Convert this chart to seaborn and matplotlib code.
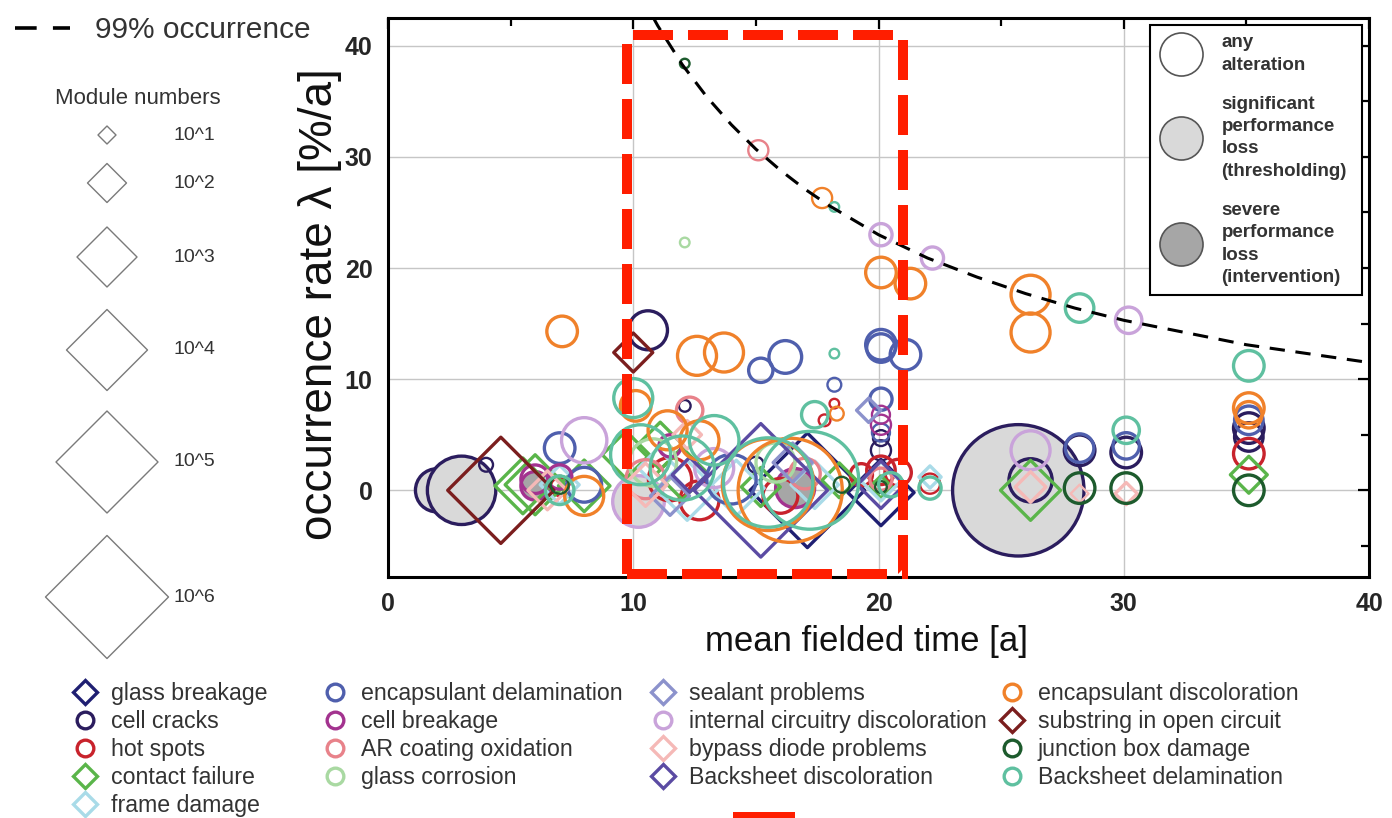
import matplotlib
matplotlib.use("Agg")
import numpy as np
import pandas as pd
import matplotlib.pyplot as plt
import seaborn as sns
from matplotlib.lines import Line2D
from matplotlib.patches import Rectangle

# ---------------------------------------------------------------------------
# Degradation modes: (mean fielded time [a], occurrence rate [%/a],
#                     log10 module number, severity 0=any / 1=significant / 2=severe)
# ---------------------------------------------------------------------------
glass_breakage = [(17.1, 0.0, 5.6, 0), (20.1, -0.2, 3.3, 0)]
cell_cracks = [(2.0, 0.0, 2.2, 1), (3.0, 0.0, 3.4, 1), (25.7, 0.0, 6.4, 1),
               (10.6, 14.4, 2.0, 0), (12.1, 7.6, 0.7, 0), (4.0, 2.3, 0.8, 0),
               (15.0, 2.3, 0.9, 0), (20.1, 4.7, 0.9, 0), (20.1, 3.6, 1.1, 0),
               (26.2, 0.9, 2.2, 0), (28.2, 3.6, 1.6, 0), (30.1, 3.4, 1.6, 0),
               (35.1, 5.6, 1.6, 0), (35.1, 4.8, 1.5, 0)]
hot_spots = [(7.0, 0.3, 1.0, 0), (12.7, -0.9, 2.0, 0), (17.8, 6.3, 0.7, 0),
             (18.2, 7.8, 0.6, 0), (19.3, 1.4, 1.2, 0), (20.1, 1.8, 1.5, 0),
             (20.8, 1.6, 1.4, 0), (22.1, 0.6, 1.1, 0), (35.1, 3.3, 1.6, 0),
             (11.5, 1.0, 2.2, 0), (16.0, -0.5, 1.8, 0)]
contact_failure = [(6.0, 0.5, 3.0, 0), (5.5, 0.4, 2.8, 0), (8.0, 0.4, 2.6, 0),
                   (9.7, 3.2, 2.4, 0), (11.1, 4.0, 2.4, 0), (12.0, 1.5, 2.6, 0),
                   (15.2, 0.3, 2.0, 0), (18.4, 0.9, 1.8, 0), (20.1, 0.3, 1.2, 0),
                   (26.2, 0.0, 3.0, 0), (35.1, 1.4, 1.9, 0)]
frame_damage = [(7.0, 0.5, 2.0, 0), (12.2, 0.0, 3.0, 0), (14.2, 0.2, 2.8, 0),
                (17.4, 0.5, 2.4, 0), (20.1, 0.8, 2.0, 0), (22.1, 1.2, 1.2, 0),
                (11.0, 2.0, 2.0, 0)]
encapsulant_delamination = [(7.0, 3.8, 1.6, 0), (8.0, 0.5, 1.8, 0), (15.2, 10.8, 1.3, 0),
                            (16.2, 12.0, 1.7, 0), (18.2, 9.5, 0.8, 0), (20.1, 13.1, 1.6, 0),
                            (20.1, 12.8, 1.5, 0), (21.1, 12.2, 1.6, 0), (20.1, 8.2, 1.2, 0),
                            (20.1, 5.2, 1.0, 0), (28.2, 3.8, 1.5, 0), (30.1, 4.0, 1.4, 0),
                            (35.1, 6.3, 1.5, 0), (14.0, 1.0, 2.5, 0)]
cell_breakage = [(16.6, 0.2, 2.0, 2), (6.0, 0.4, 1.5, 2), (6.0, 1.0, 1.5, 0),
                 (7.0, 1.2, 1.3, 0), (11.5, 4.0, 1.2, 0), (20.1, 5.9, 1.1, 0),
                 (20.1, 6.8, 1.0, 0)]
ar_coating_oxidation = [(15.1, 30.6, 1.1, 0), (12.3, 7.2, 1.4, 0), (10.5, 1.0, 2.0, 0),
                        (17.0, 1.5, 1.6, 0), (20.1, 1.0, 1.2, 0)]
glass_corrosion = [(12.1, 22.3, 0.6, 0), (10.8, 2.5, 2.4, 0), (15.8, 2.5, 2.0, 0)]
sealant_problems = [(19.6, 7.2, 1.3, 0), (11.5, -0.5, 2.0, 0), (16.5, 2.5, 2.0, 0)]
internal_circuitry = [(10.2, -1.0, 2.6, 1), (20.1, 23.0, 1.2, 0), (22.2, 20.9, 1.2, 0),
                      (30.2, 15.3, 1.4, 0), (8.0, 4.5, 2.3, 0), (26.2, 3.6, 2.0, 0),
                      (13.3, 2.0, 2.0, 0)]
bypass_diode = [(28.2, -0.3, 1.0, 0), (30.1, -0.3, 1.2, 0), (12.2, 5.0, 1.5, 0),
                (26.2, 0.3, 1.6, 0), (10.5, 0.5, 2.2, 0), (6.5, 0.0, 2.0, 0)]
backsheet_discoloration = [(15.2, 0.0, 6.5, 0), (12.3, 1.4, 1.8, 0), (20.1, 0.5, 2.4, 0)]
encapsulant_discoloration = [(17.7, 26.3, 1.1, 0), (20.1, 19.6, 1.6, 0), (21.3, 18.6, 1.6, 0),
                             (26.2, 17.6, 2.0, 0), (26.2, 14.2, 2.0, 0), (7.1, 14.3, 1.6, 0),
                             (12.6, 12.1, 2.0, 0), (13.7, 12.4, 2.0, 0), (18.3, 6.9, 0.8, 0),
                             (10.1, 7.6, 1.6, 0), (11.4, 5.4, 2.0, 0), (12.7, 4.5, 2.0, 0),
                             (16.4, 0.0, 5.1, 0), (15.5, 0.5, 4.5, 0), (8.0, -0.5, 2.0, 0),
                             (35.1, 7.4, 1.6, 0), (35.1, 6.8, 1.4, 0)]
substring_open_circuit = [(10.0, 12.4, 2.0, 0), (4.6, 0.0, 5.2, 0)]
junction_box_damage = [(12.1, 38.4, 0.6, 0), (7.0, 0.5, 1.0, 0), (18.5, 0.5, 0.9, 0),
                       (20.1, 0.3, 0.7, 0), (28.2, 0.2, 1.6, 0), (30.1, 0.2, 1.6, 0),
                       (35.1, 0.0, 1.6, 0)]
backsheet_delamination = [(18.2, 25.5, 0.6, 0), (18.2, 12.3, 0.6, 0), (28.2, 16.4, 1.5, 0),
                          (35.1, 11.2, 1.6, 0), (10.0, 8.3, 2.0, 0), (10.3, 3.2, 3.0, 0),
                          (13.3, 4.5, 2.5, 0), (17.4, 6.8, 1.4, 0), (15.5, 0.7, 4.4, 0),
                          (17.2, 0.9, 4.8, 0), (12.0, 2.0, 3.2, 0), (22.1, 0.2, 1.2, 0),
                          (30.1, 5.4, 1.4, 0), (7.0, 0.0, 1.5, 0), (20.5, 0.5, 1.3, 0)]

# 99 % occurrence bound
curve_t = [10.8, 11, 12, 13, 14, 15, 16, 17, 18, 20, 22, 24, 26, 28, 30, 32.5, 35, 37.5, 40]
curve_lam = [42.6, 41.8, 38.3, 35.4, 32.9, 30.7, 28.8, 27.1, 25.6, 23.0, 20.9, 19.2,
             17.7, 16.4, 15.3, 14.2, 13.1, 12.3, 11.5]

module_exponents = [1, 2, 3, 4, 5, 6]
severity_labels = ["any\nalteration",
                   "significant\nperformance\nloss\n(thresholding)",
                   "severe\nperformance\nloss\n(intervention)"]
severity_fills = ["white", "#d9d9d9", "#a6a6a6"]

# (label, records, marker, colour) in legend order
modes = [
    ("glass breakage", glass_breakage, "D", "#1f1f72"),
    ("cell cracks", cell_cracks, "o", "#2b1d5e"),
    ("hot spots", hot_spots, "o", "#c8232c"),
    ("contact failure", contact_failure, "D", "#5ab54a"),
    ("frame damage", frame_damage, "D", "#a9dbe8"),
    ("encapsulant delamination", encapsulant_delamination, "o", "#4f5fad"),
    ("cell breakage", cell_breakage, "o", "#a3338f"),
    ("AR coating oxidation", ar_coating_oxidation, "o", "#e8828a"),
    ("glass corrosion", glass_corrosion, "o", "#a9d9a2"),
    ("sealant problems", sealant_problems, "D", "#8c92cc"),
    ("internal circuitry discoloration", internal_circuitry, "o", "#c9a3da"),
    ("bypass diode problems", bypass_diode, "D", "#f5b9b7"),
    ("Backsheet discoloration", backsheet_discoloration, "D", "#5b4ba3"),
    ("encapsulant discoloration", encapsulant_discoloration, "o", "#f0812a"),
    ("substring in open circuit", substring_open_circuit, "D", "#7b1e1e"),
    ("junction box damage", junction_box_damage, "o", "#1d5b2d"),
    ("Backsheet delamination", backsheet_delamination, "o", "#5fc0a0"),
]

W, H, DPI = 1392, 818, 100
PT = 72.0 / DPI  # points per pixel


def marker_area(exp, marker):
    """Scatter area (pt^2) for a module count of 10**exp."""
    d = (21.0 * exp - 3.0) * PT
    return d * d / 2.0 if marker == "D" else d * d


rows = []
for order, (label, recs, marker, colour) in enumerate(modes):
    for t, lam, exp, sev in recs:
        rows.append(dict(mode=label, t=t, lam=lam, exp=exp, sev=sev,
                         marker=marker, colour=colour, order=order,
                         area=marker_area(exp, marker),
                         small=exp < 1.2))
df = pd.DataFrame(rows)

sns.set_theme(style="white")
plt.rcParams["font.family"] = ["Liberation Sans", "DejaVu Sans"]

fig = plt.figure(figsize=(W / DPI, H / DPI), dpi=DPI)

# overlay in pixel units for the marker-size key and page furniture
lax = fig.add_axes([0, 0, 1, 1], zorder=0)
lax.set_xlim(0, W)
lax.set_ylim(H, 0)
lax.axis("off")

ax = fig.add_axes([388 / W, 1 - 577 / H, (1369 - 388) / W, (577 - 18) / H], zorder=1)
ax.set_xlim(0, 40)
ax.set_ylim(-7.8, 42.5)

# filled (performance-loss) markers sit underneath the outlined ones
for fill_pass in (True, False):
    for (order, sev, small), sub in df.groupby(["order", "sev", "small"]):
        if (sev > 0) != fill_pass:
            continue
        label, _, marker, colour = modes[order]
        face = severity_fills[sev] if sev > 0 else "none"
        sns.scatterplot(data=sub, x="t", y="lam", size="area",
                        sizes={a: a for a in sub["area"].unique()},
                        marker=marker, facecolor=face, edgecolor=colour,
                        linewidth=1.7 if small else 2.4, legend=False, ax=ax,
                        zorder=3 if fill_pass else 4)

sns.lineplot(x=curve_t, y=curve_lam, ax=ax, color="black", linewidth=2.2,
             linestyle=(0, (5, 3.5)), zorder=5)

ax.set_xticks([0, 10, 20, 30, 40])
ax.set_xticks([5, 15, 25, 35], minor=True)
ax.set_yticks([0, 10, 20, 30, 40])
ax.set_yticks([-5, 5, 15, 25, 35], minor=True)
ax.grid(which="major", color="#c6c6c6", linewidth=1.0)
ax.set_axisbelow(True)
ax.tick_params(which="both", direction="in", top=True, right=True, color="black",
               width=1.6, labelsize=18)
ax.tick_params(which="major", length=8)
ax.tick_params(which="minor", length=6)
ax.tick_params(axis="y", pad=11)
ax.tick_params(axis="x", pad=11)
for lab in ax.get_xticklabels() + ax.get_yticklabels():
    lab.set_fontweight("bold")
for sp in ax.spines.values():
    sp.set_color("black")
    sp.set_linewidth(2.2)

ax.set_xlabel("mean fielded time [a]", fontsize=25, color="#111111")
ax.set_ylabel("occurrence rate λ [%/a]", fontsize=33, color="#111111")
ax.xaxis.set_label_coords(0.488, -0.086)
ax.yaxis.set_label_coords(-0.047, 0.488)

# highlighted window
ax.add_patch(Rectangle((9.76, -7.5), 21.0 - 9.76, 41.0 + 7.5, fill=False,
                       edgecolor="#ff1e00", linewidth=7.2, linestyle=(0, (4, 1.5)),
                       clip_on=False, zorder=10))

# severity key
sev_handles = [Line2D([], [], marker="o", linestyle="none", markersize=31,
                      markerfacecolor=f, markeredgecolor="#555555", markeredgewidth=1.2)
               for f in severity_fills]
leg_sev = ax.legend(sev_handles, severity_labels, loc="upper left", mode="expand",
                    bbox_to_anchor=(1150 / W, 1 - 298 / H, 212 / W, 273 / H),
                    bbox_transform=fig.transFigure,
                    frameon=True, fancybox=False, framealpha=1, edgecolor="black",
                    prop=dict(size=13.5, weight="bold"), labelcolor="#333333",
                    handlelength=2.35, handletextpad=0.96, labelspacing=1.2,
                    borderpad=0.5, borderaxespad=0)
for txt in leg_sev.get_texts():
    txt.set_linespacing(1.4)
leg_sev.get_frame().set_linewidth(1.5)
leg_sev.set_zorder(20)

# 99 % occurrence key
fig.legend([Line2D([], [], color="black", linewidth=2.6, linestyle=(0, (6, 4.5)))],
           ["99% occurrence"], loc="upper left", bbox_to_anchor=(15 / W, 1 - 16 / H),
           frameon=False, fontsize=21.5, labelcolor="#333333",
           handlelength=1.85, handletextpad=0.84, borderpad=0, borderaxespad=0)

# module-number size key
key_y = [135, 183, 257, 350, 462, 597]
lax.text(138, 98, "Module numbers", ha="center", va="center", fontsize=16, color="#333333")
for e, yk in zip(module_exponents, key_y):
    lax.scatter([107], [yk], s=marker_area(e, "D"), marker="D", facecolor="none",
                edgecolor="#7a7a7a", linewidth=1.0)
    lax.text(194, yk, f"10^{e}", ha="center", va="center", fontsize=14, color="#333333")

# degradation-mode key, four columns
col_x = [85, 335, 663, 1012]
col_rows = [modes[0:5], modes[5:9], modes[9:13], modes[13:17]]
for cx, entries in zip(col_x, col_rows):
    hs, ls = [], []
    for label, _, marker, colour in entries:
        hs.append(Line2D([], [], marker=marker, linestyle="none",
                         markersize=12.5 if marker == "D" else 12,
                         markerfacecolor="none", markeredgecolor=colour,
                         markeredgewidth=2.4))
        ls.append(label)
    fig.legend(hs, ls, loc="upper left", bbox_to_anchor=((cx - 12) / W, 1 - 682 / H),
               frameon=False, fontsize=16.7, labelcolor="#333333",
               handlelength=1.0, handletextpad=0.62, labelspacing=0.22, borderpad=0,
               borderaxespad=0)

# clipped marker band at the page foot
fig.patches.append(Rectangle((733 / W, 0), 62 / W, 6 / H, transform=fig.transFigure,
                             facecolor="#ff1e00", edgecolor="none"))

fig.savefig("out.png", dpi=DPI, facecolor="white")
